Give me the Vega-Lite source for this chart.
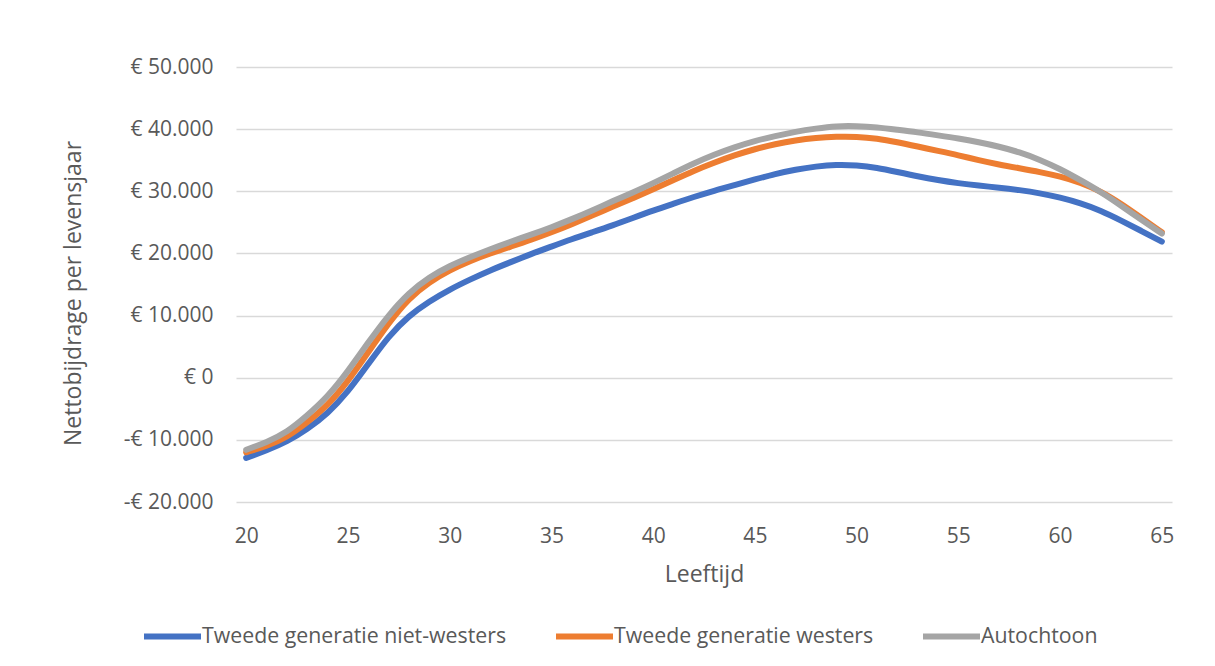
{
  "$schema": "https://vega.github.io/schema/vega-lite/v6.json",
  "width": 936,
  "height": 435,
  "autosize": {"type": "none"},
  "padding": {"left": 236, "top": 67, "right": 43, "bottom": 164},
  "background": "white",
  "config": {
    "font": "Open Sans",
    "view": {"stroke": null},
    "axis": {"labelColor": "#595959", "titleColor": "#595959", "labelFont": "Open Sans", "titleFont": "Open Sans", "titleFontWeight": "normal"},
    "legend": {"labelColor": "#595959", "labelFont": "Open Sans"}
  },
  "data": {
    "values": [
      {"Leeftijd": 20, "Tweede generatie niet-westers": -12900, "Tweede generatie westers": -12000, "Autochtoon": -11600},
      {"Leeftijd": 21, "Tweede generatie niet-westers": -11700, "Tweede generatie westers": -11000, "Autochtoon": -10400},
      {"Leeftijd": 22, "Tweede generatie niet-westers": -10300, "Tweede generatie westers": -9600, "Autochtoon": -8800},
      {"Leeftijd": 23, "Tweede generatie niet-westers": -8300, "Tweede generatie westers": -7200, "Autochtoon": -6100},
      {"Leeftijd": 24, "Tweede generatie niet-westers": -5800, "Tweede generatie westers": -4500, "Autochtoon": -3100},
      {"Leeftijd": 25, "Tweede generatie niet-westers": -2300, "Tweede generatie westers": -600, "Autochtoon": 1000},
      {"Leeftijd": 26, "Tweede generatie niet-westers": 2200, "Tweede generatie westers": 4100, "Autochtoon": 5700},
      {"Leeftijd": 27, "Tweede generatie niet-westers": 6700, "Tweede generatie westers": 8800, "Autochtoon": 10100},
      {"Leeftijd": 28, "Tweede generatie niet-westers": 10000, "Tweede generatie westers": 12800, "Autochtoon": 13700},
      {"Leeftijd": 29, "Tweede generatie niet-westers": 12300, "Tweede generatie westers": 15400, "Autochtoon": 16200},
      {"Leeftijd": 30, "Tweede generatie niet-westers": 14200, "Tweede generatie westers": 17300, "Autochtoon": 18000},
      {"Leeftijd": 31, "Tweede generatie niet-westers": 15800, "Tweede generatie westers": 18800, "Autochtoon": 19400},
      {"Leeftijd": 32, "Tweede generatie niet-westers": 17300, "Tweede generatie westers": 20000, "Autochtoon": 20700},
      {"Leeftijd": 33, "Tweede generatie niet-westers": 18600, "Tweede generatie westers": 21100, "Autochtoon": 21900},
      {"Leeftijd": 34, "Tweede generatie niet-westers": 19900, "Tweede generatie westers": 22200, "Autochtoon": 23000},
      {"Leeftijd": 35, "Tweede generatie niet-westers": 21100, "Tweede generatie westers": 23400, "Autochtoon": 24200},
      {"Leeftijd": 36, "Tweede generatie niet-westers": 22300, "Tweede generatie westers": 24700, "Autochtoon": 25500},
      {"Leeftijd": 37, "Tweede generatie niet-westers": 23400, "Tweede generatie westers": 26100, "Autochtoon": 26900},
      {"Leeftijd": 38, "Tweede generatie niet-westers": 24500, "Tweede generatie westers": 27500, "Autochtoon": 28400},
      {"Leeftijd": 39, "Tweede generatie niet-westers": 25700, "Tweede generatie westers": 28900, "Autochtoon": 29800},
      {"Leeftijd": 40, "Tweede generatie niet-westers": 26900, "Tweede generatie westers": 30300, "Autochtoon": 31300},
      {"Leeftijd": 41, "Tweede generatie niet-westers": 28000, "Tweede generatie westers": 31800, "Autochtoon": 32900},
      {"Leeftijd": 42, "Tweede generatie niet-westers": 29100, "Tweede generatie westers": 33300, "Autochtoon": 34500},
      {"Leeftijd": 43, "Tweede generatie niet-westers": 30100, "Tweede generatie westers": 34600, "Autochtoon": 35900},
      {"Leeftijd": 44, "Tweede generatie niet-westers": 31000, "Tweede generatie westers": 35800, "Autochtoon": 37100},
      {"Leeftijd": 45, "Tweede generatie niet-westers": 31900, "Tweede generatie westers": 36800, "Autochtoon": 38100},
      {"Leeftijd": 46, "Tweede generatie niet-westers": 32800, "Tweede generatie westers": 37600, "Autochtoon": 38900},
      {"Leeftijd": 47, "Tweede generatie niet-westers": 33500, "Tweede generatie westers": 38200, "Autochtoon": 39600},
      {"Leeftijd": 48, "Tweede generatie niet-westers": 34000, "Tweede generatie westers": 38600, "Autochtoon": 40100},
      {"Leeftijd": 49, "Tweede generatie niet-westers": 34300, "Tweede generatie westers": 38800, "Autochtoon": 40500},
      {"Leeftijd": 50, "Tweede generatie niet-westers": 34200, "Tweede generatie westers": 38800, "Autochtoon": 40500},
      {"Leeftijd": 51, "Tweede generatie niet-westers": 33800, "Tweede generatie westers": 38500, "Autochtoon": 40300},
      {"Leeftijd": 52, "Tweede generatie niet-westers": 33100, "Tweede generatie westers": 37900, "Autochtoon": 39900},
      {"Leeftijd": 53, "Tweede generatie niet-westers": 32400, "Tweede generatie westers": 37200, "Autochtoon": 39500},
      {"Leeftijd": 54, "Tweede generatie niet-westers": 31800, "Tweede generatie westers": 36500, "Autochtoon": 39000},
      {"Leeftijd": 55, "Tweede generatie niet-westers": 31300, "Tweede generatie westers": 35800, "Autochtoon": 38500},
      {"Leeftijd": 56, "Tweede generatie niet-westers": 30900, "Tweede generatie westers": 35000, "Autochtoon": 37900},
      {"Leeftijd": 57, "Tweede generatie niet-westers": 30600, "Tweede generatie westers": 34300, "Autochtoon": 37200},
      {"Leeftijd": 58, "Tweede generatie niet-westers": 30200, "Tweede generatie westers": 33700, "Autochtoon": 36300},
      {"Leeftijd": 59, "Tweede generatie niet-westers": 29700, "Tweede generatie westers": 33100, "Autochtoon": 35100},
      {"Leeftijd": 60, "Tweede generatie niet-westers": 29000, "Tweede generatie westers": 32400, "Autochtoon": 33600},
      {"Leeftijd": 61, "Tweede generatie niet-westers": 28100, "Tweede generatie westers": 31400, "Autochtoon": 31800},
      {"Leeftijd": 62, "Tweede generatie niet-westers": 26900, "Tweede generatie westers": 30000, "Autochtoon": 29900},
      {"Leeftijd": 63, "Tweede generatie niet-westers": 25300, "Tweede generatie westers": 28000, "Autochtoon": 27700},
      {"Leeftijd": 64, "Tweede generatie niet-westers": 23600, "Tweede generatie westers": 25700, "Autochtoon": 25400},
      {"Leeftijd": 65, "Tweede generatie niet-westers": 21900, "Tweede generatie westers": 23400, "Autochtoon": 23200}
    ]
  },
  "transform": [
    {"fold": ["Tweede generatie niet-westers", "Tweede generatie westers", "Autochtoon"], "as": ["serie", "waarde"]}
  ],
  "mark": {"type": "line", "interpolate": "basis", "strokeWidth": 6, "strokeCap": "round", "strokeJoin": "round"},
  "encoding": {
    "x": {
      "field": "Leeftijd",
      "type": "quantitative",
      "scale": {"domain": [19.5, 65.5], "nice": false, "zero": false},
      "axis": {
        "title": "Leeftijd",
        "values": [20, 25, 30, 35, 40, 45, 50, 55, 60, 65],
        "grid": false,
        "domain": false,
        "ticks": false,
        "labelFontSize": 21,
        "labelPadding": 23,
        "titleFontSize": 23,
        "titleY": 61,
        "format": "d"
      }
    },
    "y": {
      "field": "waarde",
      "type": "quantitative",
      "scale": {"domain": [-20000, 50000], "nice": false},
      "axis": {
        "title": "Nettobijdrage per levensjaar",
        "values": [-20000, -10000, 0, 10000, 20000, 30000, 40000, 50000],
        "grid": true,
        "gridColor": "#d9d9d9",
        "gridWidth": 1.5,
        "domain": false,
        "ticks": false,
        "labelFontSize": 21,
        "labelPadding": 23,
        "titleFontSize": 23,
        "titlePadding": 38,
        "titleY": 226,
        "labelExpr": "(datum.value < 0 ? '-€ ' : '€ ') + replace(format(abs(datum.value), ','), /,/g, '.')"
      }
    },
    "color": {
      "field": "serie",
      "type": "nominal",
      "scale": {
        "domain": ["Tweede generatie niet-westers", "Tweede generatie westers", "Autochtoon"],
        "range": ["#4472C4", "#ED7D31", "#A5A5A5"]
      },
      "legend": {
        "title": null,
        "orient": "none",
        "direction": "horizontal",
        "legendX": -95,
        "legendY": 538,
        "symbolType": "stroke",
        "symbolSize": 3249,
        "symbolStrokeWidth": 6,
        "labelFontSize": 21.3,
        "labelLimit": 0,
        "labelOffset": -2,
        "columnPadding": 37,
        "padding": 0,
        "gridAlign": "none"
      }
    }
  }
}
